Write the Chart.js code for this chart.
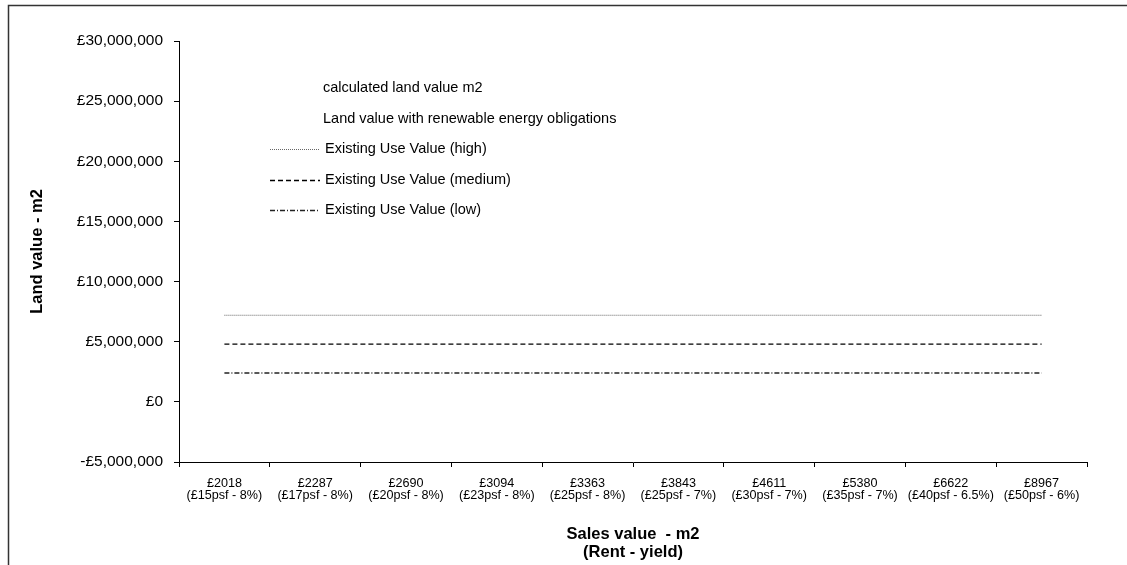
<!DOCTYPE html>
<html><head><meta charset="utf-8">
<script src="https://cdn.jsdelivr.net/npm/chart.js@4.4.1/dist/chart.umd.min.js"></script>
<style>html,body{margin:0;padding:0;background:#fff;} canvas{display:block;}</style>
</head><body>
<canvas id="c" width="1127" height="565"></canvas>
<script>
// ---- data ----
const salesValues = ['£2018','£2287','£2690','£3094','£3363','£3843','£4611','£5380','£6622','£8967'];
const rentYield = ['(£15psf - 8%)','(£17psf - 8%)','(£20psf - 8%)','(£23psf - 8%)','(£25psf - 8%)','(£25psf - 7%)','(£30psf - 7%)','(£35psf - 7%)','(£40psf - 6.5%)','(£50psf - 6%)'];
const calculatedLandValue = [null,null,null,null,null,null,null,null,null,null];
const renewableLandValue = [null,null,null,null,null,null,null,null,null,null];
const euvHigh = [7200000,7200000,7200000,7200000,7200000,7200000,7200000,7200000,7200000,7200000];
const euvMedium = [4800000,4800000,4800000,4800000,4800000,4800000,4800000,4800000,4800000,4800000];
const euvLow = [2400000,2400000,2400000,2400000,2400000,2400000,2400000,2400000,2400000,2400000];
const yMin = -5000000, yMax = 30000000, yStep = 5000000;

const FONT = '"Liberation Sans", Arial, sans-serif';
const labels = salesValues.map((s, i) => [s, rentYield[i]]);

function fmtPound(v) {
  const s = '£' + Math.abs(v).toLocaleString('en-GB');
  return v < 0 ? '-' + s : s;
}

const frame = {
  id: 'frame',
  beforeDraw(chart) {
    const ctx = chart.ctx;
    ctx.save();
    ctx.fillStyle = '#fff';
    ctx.fillRect(0, 0, chart.width, chart.height);
    ctx.strokeStyle = '#333';
    ctx.lineWidth = 1.5;
    ctx.strokeRect(8.5, 5.5, 1400, 800);
    ctx.restore();
  }
};

const legendBox = {
  id: 'legendBox',
  afterDatasetsDraw(chart) {
    const ctx = chart.ctx;
    ctx.save();
    ctx.font = '14.5px ' + FONT;
    ctx.textBaseline = 'middle';
    ctx.fillStyle = '#000';
    chart.data.datasets.forEach((ds, i) => {
      const y = 88 + i * 30.5;
      const hasLine = ds.data.some(v => v !== null);
      if (hasLine) {
        ctx.save();
        ctx.strokeStyle = ds.borderColor;
        ctx.lineWidth = ds.borderWidth;
        ctx.setLineDash(ds.borderDash || []);
        ctx.beginPath();
        ctx.moveTo(270, Math.round(y) + 0.5);
        ctx.lineTo(320, Math.round(y) + 0.5);
        ctx.stroke();
        ctx.restore();
      }
      ctx.fillText(ds.label, hasLine ? 325 : 323, y);
    });
    ctx.restore();
  }
};

new Chart(document.getElementById('c'), {
  type: 'line',
  data: {
    labels: labels,
    datasets: [
      { label: 'calculated land value m2', data: calculatedLandValue, borderColor: 'rgba(0,0,0,0)', borderWidth: 0, pointRadius: 0 },
      { label: 'Land value with renewable energy obligations', data: renewableLandValue, borderColor: 'rgba(0,0,0,0)', borderWidth: 0, pointRadius: 0 },
      { label: 'Existing Use Value (high)', data: euvHigh, borderColor: '#666', borderWidth: 1, borderDash: [1, 1], pointRadius: 0 },
      { label: 'Existing Use Value (medium)', data: euvMedium, borderColor: '#000', borderWidth: 1.3, borderDash: [5, 3], pointRadius: 0 },
      { label: 'Existing Use Value (low)', data: euvLow, borderColor: '#222', borderWidth: 1.3, borderDash: [5, 2, 1, 2], pointRadius: 0 }
    ]
  },
  options: {
    responsive: false,
    animation: false,
    layout: { padding: { left: 0, right: 40, top: 41, bottom: 0 } },
    plugins: { legend: { display: false }, tooltip: { enabled: false } },
    scales: {
      x: {
        type: 'category',
        offset: true,
        grid: { offset: true, drawOnChartArea: false, drawTicks: true, tickLength: 5, color: '#000' },
        border: { display: true, color: '#000', width: 1 },
        ticks: { color: '#000', font: { family: FONT, size: 12.6, lineHeight: 1.0 }, padding: 10, maxRotation: 0, autoSkip: false },
        title: { display: true, text: ['Sales value  - m2', '(Rent - yield)'], color: '#000', font: { family: FONT, size: 16.5, weight: 'bold', lineHeight: 1.1 }, padding: { top: 0, bottom: 3 } },
        afterFit(scale) { scale.height = 103; }
      },
      y: {
        min: yMin, max: yMax,
        grid: { drawOnChartArea: false, drawTicks: true, tickLength: 5, color: '#000' },
        border: { display: true, color: '#000', width: 1 },
        ticks: { stepSize: yStep, color: '#000', font: { family: FONT, size: 15.5 }, padding: 11, callback: v => fmtPound(v) },
        title: { display: true, text: 'Land value - m2', color: '#000', font: { family: FONT, size: 16.5, weight: 'bold', lineHeight: 1.2 }, padding: { top: 28, bottom: 0 } },
        afterFit(scale) { scale.width = 179; }
      }
    }
  },
  plugins: [frame, legendBox]
});
</script>
</body></html>
